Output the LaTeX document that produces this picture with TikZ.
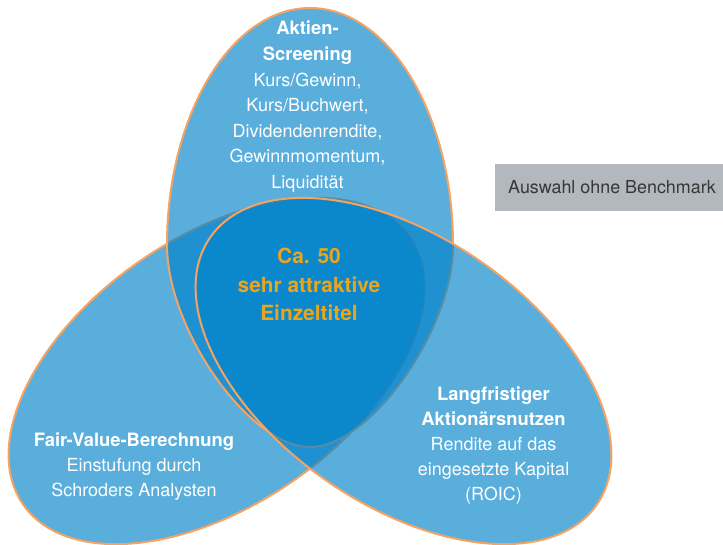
\documentclass[tikz,border=0pt]{standalone}
\usepackage{fontspec}
\setmainfont{TeX Gyre Heros}
\definecolor{vblue}{RGB}{0,130,202}
\definecolor{vorange}{RGB}{245,163,98}
\definecolor{vgold}{RGB}{233,165,30}
\definecolor{vgray}{RGB}{179,184,190}
\definecolor{vtext}{RGB}{55,55,55}
\begin{document}
\begin{tikzpicture}[x=1pt,y=-1pt,
  setshape/.style={fill=vblue, fill opacity=0.65, draw=vorange, draw opacity=1, line width=2pt},
  lbl/.style={text=white, anchor=base, inner sep=0pt, font=\fontsize{18}{20}\selectfont},
  head/.style={text=white, anchor=base, inner sep=0pt, font=\fontsize{18.4}{22}\selectfont\bfseries},
  core/.style={text=vgold, anchor=base, inner sep=0pt, font=\fontsize{20.9}{24}\selectfont\bfseries},
  boxtext/.style={text=vtext, anchor=base, inner sep=0pt, font=\fontsize{17.9}{20}\selectfont}]
\useasboundingbox (0,0) rectangle (723,545);
% left ellipse
\draw[setshape, rotate around={34.6:(216.5,371)}] (216.5,371) ellipse [x radius=235, y radius=134];
% top egg
\draw[setshape] (310,8) .. controls (231,8) and (167,115) .. (167,245)
  .. controls (167,330) and (250,447) .. (310,447)
  .. controls (370,447) and (453,330) .. (453,245)
  .. controls (453,115) and (389,8) .. (310,8) -- cycle;
% right ellipse
\draw[setshape, rotate around={-34.6:(403.5,371)}] (403.5,371) ellipse [x radius=235, y radius=134];
% benchmark box
\node (bench) [fill=vgray, anchor=north west, minimum width=228pt, minimum height=47pt, inner sep=0pt] at (495,164) {};
\node[boxtext] (benchtxt) at (612,193.3) {Auswahl ohne Benchmark};
% top block
\node[head] (t1) at (307.5,35) {Aktien-};
\node[head] (t2) at (307.5,60.6) {Screening};
\node[lbl] (t3) at (307.5,86.2) {Kurs/Gewinn,};
\node[lbl] (t4) at (307.5,111.8) {Kurs/Buchwert,};
\node[lbl] (t5) at (307.5,137.4) {Dividendenrendite,};
\node[lbl] (t6) at (307.5,163) {Gewinnmomentum,};
\node[lbl] (t7) at (307.5,188.6) {Liquidität};
% center block
\node[core] (c1) at (309,263.3) {Ca. 50};
\node[core] (c2) at (309,292.2) {sehr attraktive};
\node[core] (c3) at (309,321) {Einzeltitel};
% left block
\node[head] (l1) at (134,446.7) {Fair-Value-Berechnung};
\node[lbl] (l2) at (134,471.7) {Einstufung durch};
\node[lbl] (l3) at (134,496.7) {Schroders Analysten};
% right block
\node[head] (r1) at (493.5,400) {Langfristiger};
\node[head] (r2) at (493.5,425) {Aktionärsnutzen};
\node[lbl] (r3) at (493.5,450) {Rendite auf das};
\node[lbl] (r4) at (493.5,475) {eingesetzte Kapital};
\node[lbl] (r5) at (493.5,500) {(ROIC)};
\end{tikzpicture}
\end{document}
